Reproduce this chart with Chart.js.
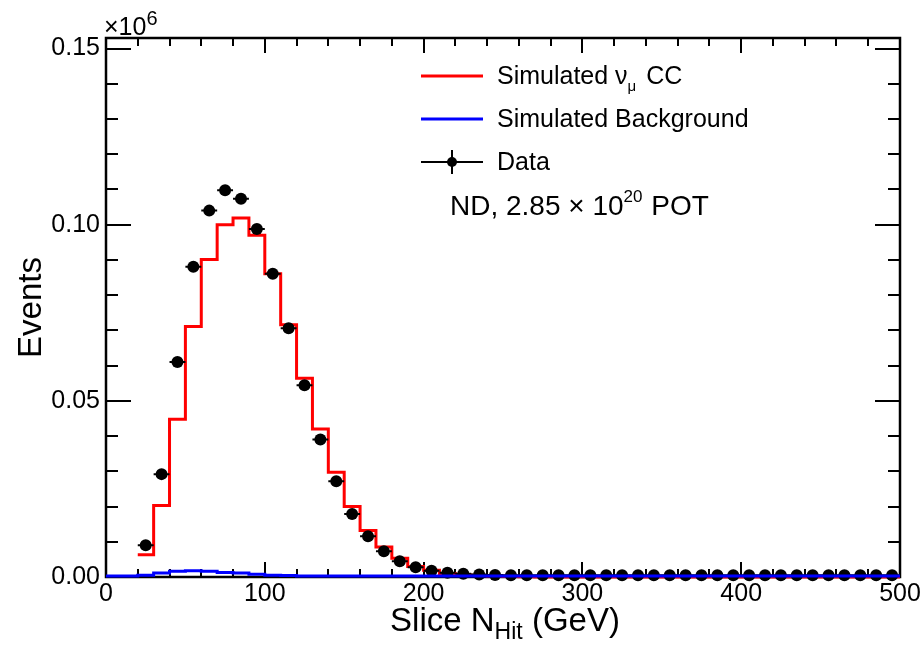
<!DOCTYPE html>
<html>
<head>
<meta charset="utf-8">
<script src="https://cdn.jsdelivr.net/npm/chart.js@4/dist/chart.umd.min.js"></script>
<style>
    html, body { margin: 0; padding: 0; background: #fff; }
    #wrap { width: 924px; height: 646px; position: relative; }
</style>
</head>
<body>
<div id="wrap"><canvas id="nhitChart"></canvas></div>
<script>
// 直方图分箱 (Slice N_Hit)
var xMin = 0, xMax = 500, binWidth = 10;
var yMax = 0.153;

// 模拟 numu CC，分箱 20-30 ... 490-500 (x10^6 events)
var signalStart = 20;
var signalCC = [
    0.0063, 0.0203, 0.0448, 0.0711, 0.0901, 0.1000, 0.1019, 0.0970, 0.0861, 0.0716,
    0.0564, 0.0420, 0.0297, 0.0200, 0.0132, 0.0085, 0.0053, 0.0030, 0.0019, 0.0010,
    0.0006, 0.0004, 0.0003, 0.0002, 0.0001, 0.0000, 0.0000, 0.0000, 0.0000, 0.0000,
    0.0000, 0.0000, 0.0000, 0.0000, 0.0000, 0.0000, 0.0000, 0.0000, 0.0000, 0.0000,
    0.0000, 0.0000, 0.0000, 0.0000, 0.0000, 0.0000, 0.0000, 0.0000
];

// 模拟背景，分箱 0-10 ... 490-500
var bkgStart = 0;
var background = [
    0.0003, 0.0003, 0.0005, 0.0011, 0.0016, 0.0018, 0.0016, 0.0013, 0.0011, 0.0008,
    0.0005, 0.0004, 0.0003, 0.0003, 0.0003, 0.0003, 0.0003, 0.0003, 0.0003, 0.0003,
    0.0003, 0.0003, 0.0003, 0.0003, 0.0003, 0.0003, 0.0003, 0.0003, 0.0003, 0.0003,
    0.0003, 0.0003, 0.0003, 0.0003, 0.0003, 0.0003, 0.0003, 0.0003, 0.0003, 0.0003,
    0.0003, 0.0003, 0.0003, 0.0003, 0.0003, 0.0003, 0.0003, 0.0003, 0.0003, 0.0003
];

// 数据点，分箱中心 25 ... 495
var dataStart = 25;
var dataEvents = [
    0.0090, 0.0292, 0.0610, 0.0881, 0.1040, 0.1098, 0.1074, 0.0988, 0.0861, 0.0706,
    0.0544, 0.0390, 0.0272, 0.0179, 0.0116, 0.0073, 0.0045, 0.0028, 0.0018, 0.0012,
    0.0009, 0.0007, 0.0006, 0.0005, 0.0005, 0.0005, 0.0005, 0.0005, 0.0005, 0.0005,
    0.0005, 0.0005, 0.0005, 0.0005, 0.0005, 0.0005, 0.0005, 0.0005, 0.0005, 0.0005,
    0.0005, 0.0005, 0.0005, 0.0005, 0.0005, 0.0005, 0.0005, 0.0005
];

// 刻度标签
var xTicks = [0, 100, 200, 300, 400, 500];
var yTicks = [0, 0.05, 0.10, 0.15];

var FONT = '"Liberation Sans", Arial, Helvetica, sans-serif';

// 把分箱内容转成阶梯线的点
function stepPoints(start, values) {
    var pts = [];
    values.forEach(function(v, i) {
        pts.push({ x: start + i * binWidth, y: v });
    });
    pts.push({ x: start + values.length * binWidth, y: values[values.length - 1] });
    return pts;
}

var dataPoints = dataEvents.map(function(v, i) {
    return { x: dataStart + i * binWidth, y: v };
});

// 画一段带上下标的文字
function drawRich(ctx, x, y, parts) {
    parts.forEach(function(p) {
        ctx.font = p.size + 'px ' + FONT;
        ctx.fillText(p.t, x, y + (p.dy || 0));
        x += ctx.measureText(p.t).width + (p.gap || 0);
    });
}
function richWidth(ctx, parts) {
    var w = 0;
    parts.forEach(function(p) {
        ctx.font = p.size + 'px ' + FONT;
        w += ctx.measureText(p.t).width + (p.gap || 0);
    });
    return w;
}

// ROOT 风格的边框、内向刻度、标题和图例
var rootStyle = {
    id: 'rootStyle',
    beforeDatasetsDraw: function(chart) {
        var ctx = chart.ctx;
        var a = chart.chartArea;
        var xs = chart.scales.x, ys = chart.scales.y;
        ctx.save();
        ctx.strokeStyle = '#000';

        // 边框
        ctx.lineWidth = 2.5;
        ctx.strokeRect(a.left, a.top, a.right - a.left, a.bottom - a.top);

        // x 刻度 (主 100，次 20)
        ctx.lineWidth = 2;
        ctx.beginPath();
        for (var v = xMin; v <= xMax; v += 20) {
            var px = Math.round(xs.getPixelForValue(v));
            var len = (v % 100 === 0) ? 15 : 8;
            ctx.moveTo(px, a.bottom); ctx.lineTo(px, a.bottom - len);
            ctx.moveTo(px, a.top); ctx.lineTo(px, a.top + len);
        }
        // y 刻度 (主 0.05，次 0.01)
        for (var k = 0; k * 0.01 <= yMax; k++) {
            var py = Math.round(ys.getPixelForValue(k * 0.01));
            var ylen = (k % 5 === 0) ? 25 : 12;
            ctx.moveTo(a.left, py); ctx.lineTo(a.left + ylen, py);
            ctx.moveTo(a.right, py); ctx.lineTo(a.right - ylen, py);
        }
        ctx.stroke();
        ctx.restore();
    },
    afterDatasetDraw: function(chart, args) {
        // 数据点的水平误差棒
        if (args.index !== 1) return;
        var ctx = chart.ctx;
        var xs = chart.scales.x, ys = chart.scales.y;
        ctx.save();
        ctx.strokeStyle = '#000';
        ctx.lineWidth = 2;
        ctx.beginPath();
        dataPoints.forEach(function(p) {
            var py = ys.getPixelForValue(p.y);
            ctx.moveTo(xs.getPixelForValue(p.x - binWidth / 2), py);
            ctx.lineTo(xs.getPixelForValue(p.x + binWidth / 2), py);
        });
        ctx.stroke();
        ctx.restore();
    },
    afterDraw: function(chart) {
        var ctx = chart.ctx;
        var a = chart.chartArea;
        ctx.save();
        ctx.fillStyle = '#000';
        ctx.textAlign = 'left';
        ctx.textBaseline = 'alphabetic';

        // 坐标轴标题
        var xTitle = [
            { t: 'Slice N', size: 33 },
            { t: 'Hit', size: 23, dy: 8 },
            { t: ' (GeV)', size: 33 }
        ];
        var w = richWidth(ctx, xTitle);
        drawRich(ctx, 505 - w / 2, 631, xTitle);

        ctx.save();
        ctx.translate(41, (a.top + a.bottom) / 2);
        ctx.rotate(-Math.PI / 2);
        ctx.textAlign = 'center';
        ctx.font = '33px ' + FONT;
        ctx.fillText('Events', 0, 0);
        ctx.restore();

        // x10^6
        drawRich(ctx, 104, 35, [
            { t: '\u00d710', size: 25 },
            { t: '6', size: 20, dy: -10 }
        ]);

        // 图例
        ctx.lineWidth = 3;
        ctx.strokeStyle = '#ff0000';
        ctx.beginPath(); ctx.moveTo(421, 76); ctx.lineTo(483, 76); ctx.stroke();
        ctx.strokeStyle = '#0000ff';
        ctx.beginPath(); ctx.moveTo(421, 119); ctx.lineTo(483, 119); ctx.stroke();
        ctx.lineWidth = 2;
        ctx.strokeStyle = '#000';
        ctx.beginPath();
        ctx.moveTo(421, 162); ctx.lineTo(483, 162);
        ctx.moveTo(452, 150); ctx.lineTo(452, 174);
        ctx.stroke();
        ctx.beginPath(); ctx.arc(452, 162, 5, 0, Math.PI * 2); ctx.fill();

        drawRich(ctx, 497, 84, [
            { t: 'Simulated \u03bd', size: 25 },
            { t: '\u03bc', size: 15, dy: 7, gap: 3 },
            { t: ' CC', size: 25 }
        ]);
        drawRich(ctx, 497, 127, [{ t: 'Simulated Background', size: 25 }]);
        drawRich(ctx, 497, 170, [{ t: 'Data', size: 25 }]);
        drawRich(ctx, 450, 215, [
            { t: 'ND, 2.85 \u00d7 10', size: 28 },
            { t: '20', size: 17, dy: -13, gap: 1 },
            { t: ' POT', size: 28 }
        ]);
        ctx.restore();
    }
};

var chart = new Chart(document.getElementById('nhitChart'), {
    type: 'scatter',
    data: {
        datasets: [
            {
                label: 'Simulated numu CC',
                data: stepPoints(signalStart, signalCC),
                showLine: true,
                stepped: true,
                borderColor: '#ff0000',
                borderWidth: 3,
                pointRadius: 0,
                clip: false,
                order: 2
            },
            {
                label: 'Data',
                data: dataPoints,
                showLine: false,
                pointRadius: 6,
                pointBackgroundColor: '#000',
                pointBorderColor: '#000',
                pointBorderWidth: 0,
                clip: false,
                order: 1
            },
            {
                label: 'Simulated Background',
                data: stepPoints(bkgStart, background),
                showLine: true,
                stepped: true,
                borderColor: '#0000ff',
                borderWidth: 3,
                pointRadius: 0,
                clip: false,
                order: 0
            }
        ]
    },
    options: {
        responsive: true,
        maintainAspectRatio: false,
        animation: false,
        layout: { padding: { top: 38, right: 24, left: 0, bottom: 0 } },
        plugins: {
            legend: { display: false },
            tooltip: { enabled: false }
        },
        scales: {
            x: {
                type: 'linear',
                min: xMin,
                max: xMax,
                grid: { display: false, drawTicks: false },
                border: { display: false },
                afterBuildTicks: function(scale) {
                    scale.ticks = xTicks.map(function(v) { return { value: v }; });
                },
                afterFit: function(scale) { scale.height = 69; },
                ticks: {
                    color: '#000',
                    padding: 2,
                    maxRotation: 0,
                    font: { family: FONT, size: 25 },
                    callback: function(v) { return String(v); }
                }
            },
            y: {
                type: 'linear',
                min: 0,
                max: yMax,
                grid: { display: false, drawTicks: false },
                border: { display: false },
                afterBuildTicks: function(scale) {
                    scale.ticks = yTicks.map(function(v) { return { value: v }; });
                },
                afterFit: function(scale) { scale.width = 106; },
                ticks: {
                    color: '#000',
                    padding: 6,
                    font: { family: FONT, size: 25 },
                    callback: function(v) { return Number(v).toFixed(2); }
                }
            }
        }
    },
    plugins: [rootStyle]
});
</script>
</body>
</html>
